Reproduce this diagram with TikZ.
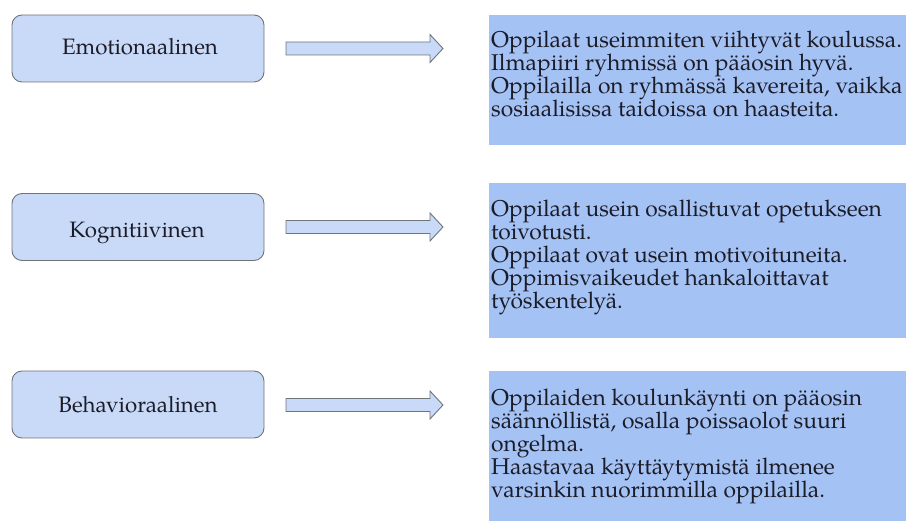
\documentclass[tikz,border=0pt]{standalone}
\usepackage{fontspec}
\setmainfont{texgyrepagella-regular.otf}
\definecolor{lbox}{HTML}{C9DAF8}
\definecolor{rbox}{HTML}{A4C2F4}
\definecolor{edge}{HTML}{6F7478}
\definecolor{ink}{HTML}{1C1C28}
\newcommand\mydescfont{\fontsize{22.8}{23}\selectfont\lineskiplimit=-30pt\relax\lineskip=0pt\relax}
\begin{document}
\begin{tikzpicture}[x=1pt,y=-1pt,
  catbox/.style={draw=edge,line width=0.9pt,fill=lbox,rounded corners=10pt,
    minimum width=252pt,minimum height=67pt,inner sep=0pt},
  cattext/.style={anchor=base,inner sep=0pt,text=ink,font=\fontsize{22.3}{20.3}\selectfont},
  descbox/.style={fill=rbox,draw=none,anchor=north west,inner sep=0pt},
  desctext/.style={anchor=north west,inner sep=0pt,align=left,text=ink,
    font=\mydescfont},
  fatarrow/.pic={\draw[draw=edge,line width=0.9pt,fill=lbox,line join=miter]
    (0,-6.5) -- (144,-6.5) -- (144,-14) -- (157,0) -- (144,14) -- (144,6.5) -- (0,6.5) -- cycle;}
]
\useasboundingbox (0,0) rectangle (906,521);
% left category boxes
\node[catbox] (b1) at (138,48.5) {};
\node[catbox] (b2) at (138,227) {};
\node[catbox] (b3) at (138,404.5) {};
\node[cattext] (t1) at (140,55) {Emotionaalinen};
\node[cattext] (t2) at (137,238) {Kognitiivinen};
\node[cattext] (t3) at (138,413) {Behavioraalinen};
% arrows
\pic (a1) at (286,48.5) {fatarrow};
\pic (a2) at (286,227) {fatarrow};
\pic (a3) at (286,405) {fatarrow};
% description boxes
\node[descbox,minimum width=417pt,minimum height=130pt] (d1) at (489,15) {};
\node[descbox,minimum width=417pt,minimum height=155pt] (d2) at (489,183) {};
\node[descbox,minimum width=417pt,minimum height=150pt] (d3) at (489,371) {};
\node[desctext] (e1) at (491,30.5) {Oppilaat useimmiten viihtyvät koulussa.\\
Ilmapiiri ryhmissä on pääosin hyvä.\\
Oppilailla on ryhmässä kavereita, vaikka\\
sosiaalisissa taidoissa on haasteita.};
\node[desctext] (e2) at (491,200) {Oppilaat usein osallistuvat opetukseen\\
toivotusti.\\
Oppilaat ovat usein motivoituneita.\\
Oppimisvaikeudet hankaloittavat\\
työskentelyä.};
\node[desctext] (e3) at (491,388.5) {Oppilaiden koulunkäynti on pääosin\\
säännöllistä, osalla poissaolot suuri\\
ongelma.\\
Haastavaa käyttäytymistä ilmenee\\
varsinkin nuorimmilla oppilailla.};
\end{tikzpicture}
\end{document}
